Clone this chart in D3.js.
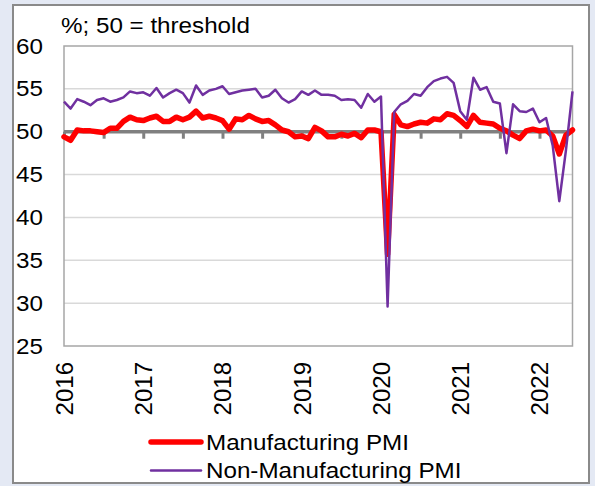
<!DOCTYPE html>
<html>
<head>
<meta charset="utf-8">
<script src="https://cdn.jsdelivr.net/npm/d3@7"></script>
<style>
html,body{margin:0;padding:0;background:#e4e9f4;}
svg{display:block;font-family:"Liberation Sans",Arial,sans-serif;}
</style>
</head>
<body>
<svg id="chart" width="595" height="486"></svg>
<script>
const months = [
"2016-01","2016-02","2016-03","2016-04","2016-05","2016-06","2016-07","2016-08","2016-09","2016-10","2016-11","2016-12",
"2017-01","2017-02","2017-03","2017-04","2017-05","2017-06","2017-07","2017-08","2017-09","2017-10","2017-11","2017-12",
"2018-01","2018-02","2018-03","2018-04","2018-05","2018-06","2018-07","2018-08","2018-09","2018-10","2018-11","2018-12",
"2019-01","2019-02","2019-03","2019-04","2019-05","2019-06","2019-07","2019-08","2019-09","2019-10","2019-11","2019-12",
"2020-01","2020-02","2020-03","2020-04","2020-05","2020-06","2020-07","2020-08","2020-09","2020-10","2020-11","2020-12",
"2021-01","2021-02","2021-03","2021-04","2021-05","2021-06","2021-07","2021-08","2021-09","2021-10","2021-11","2021-12",
"2022-01","2022-02","2022-03","2022-04","2022-05","2022-06"];

const manufacturing = [
49.4,49.0,50.2,50.1,50.1,50.0,49.9,50.4,50.4,51.2,51.7,51.4,
51.3,51.6,51.8,51.2,51.2,51.7,51.4,51.7,52.4,51.6,51.8,51.6,
51.3,50.3,51.5,51.4,51.9,51.5,51.2,51.3,50.8,50.2,50.0,49.4,
49.5,49.2,50.5,50.1,49.4,49.4,49.7,49.5,49.8,49.3,50.2,50.2,
50.0,35.7,52.0,50.8,50.6,50.9,51.1,51.0,51.5,51.4,52.1,51.9,
51.3,50.6,51.9,51.1,51.0,50.9,50.4,50.1,49.6,49.2,50.1,50.3,
50.1,50.2,49.5,47.4,49.6,50.2];

const nonManufacturing = [
53.5,52.7,53.8,53.5,53.1,53.7,53.9,53.5,53.7,54.0,54.7,54.5,
54.6,54.2,55.1,54.0,54.5,54.9,54.5,53.4,55.4,54.3,54.8,55.0,
55.3,54.4,54.6,54.8,54.9,55.0,54.0,54.2,54.9,53.9,53.4,53.8,
54.7,54.3,54.8,54.3,54.3,54.2,53.7,53.8,53.7,52.8,54.4,53.5,
54.1,29.6,52.3,53.2,53.6,54.4,54.2,55.2,55.9,56.2,56.4,55.7,
52.4,51.4,56.3,54.9,55.2,53.5,53.3,47.5,53.2,52.4,52.3,52.7,
51.1,51.6,48.4,41.9,47.8,54.7];

const yTicks = [25,30,35,40,45,50,55,60];
const yearLabels = ["2016","2017","2018","2019","2020","2021","2022"];
const yearMonths = ["2016-01","2017-01","2018-01","2019-01","2020-01","2021-01","2022-01"];
const tickMonths = ["2016-01","2016-07","2017-01","2017-07","2018-01","2018-07","2019-01","2019-07","2020-01","2020-07","2021-01","2021-07","2022-01"];
const threshold = 50;
const titleText = "%; 50 = threshold";
const seriesNames = ["Manufacturing PMI","Non-Manufacturing PMI"];

const svg = d3.select("#chart");
const L = 64, R = 572.5, T = 46, B = 346;
const fs = 22;
const sx = 1.1;

// panel
svg.append("rect").attr("x",13).attr("y",5).attr("width",576).attr("height",478)
  .attr("fill","#ffffff").attr("stroke","#8a8a8a").attr("stroke-width",2);

const x = d3.scalePoint().domain(months).range([L, R]);
const y = d3.scaleLinear().domain([25, 60]).range([B, T]);

// gridlines
svg.append("g").selectAll("line").data(yTicks.filter(d => d !== 25 && d !== 60 && d !== threshold))
  .join("line")
  .attr("x1", L).attr("x2", R)
  .attr("y1", d => y(d)).attr("y2", d => y(d))
  .attr("stroke", "#d9d9d9").attr("stroke-width", 1.5);

// plot frame
svg.append("rect").attr("x", L).attr("y", T).attr("width", R - L).attr("height", B - T)
  .attr("fill", "none").attr("stroke", "#a6a6a6").attr("stroke-width", 1.5);

// y tick labels
svg.append("g").selectAll("text").data(yTicks).join("text")
  .attr("transform", d => `translate(16,${y(d)}) scale(${sx},1)`)
  .attr("dominant-baseline", "central")
  .attr("font-size", fs).attr("fill", "#000")
  .text(d => d);

// x axis at threshold
const xAxis = d3.axisBottom(x).tickValues(tickMonths).tickSize(7).tickFormat("");
const gx = svg.append("g").attr("transform", `translate(0,${y(threshold)})`).call(xAxis);
gx.select(".domain").attr("stroke", "#808080").attr("stroke-width", 3.5).attr("d", `M${L},0H${R}`);
gx.selectAll(".tick line").attr("stroke", "#808080").attr("stroke-width", 3);

// year labels
svg.append("g").selectAll("text").data(yearLabels).join("text")
  .attr("transform", (d, i) => `translate(${x(yearMonths[i]) + 0.5},362) rotate(-90)`)
  .attr("text-anchor", "end").attr("dominant-baseline", "central")
  .attr("font-size", 24).attr("fill", "#000")
  .text(d => d);

// lines
const lineGen = vals => d3.line().x((d, i) => x(months[i])).y(d => y(d))(vals);
svg.append("path").attr("d", lineGen(manufacturing))
  .attr("fill", "none").attr("stroke", "#ff0000").attr("stroke-width", 5.5)
  .attr("stroke-linejoin", "round").attr("stroke-linecap", "round");
svg.append("path").attr("d", lineGen(nonManufacturing))
  .attr("fill", "none").attr("stroke", "#7030a0").attr("stroke-width", 2.5)
  .attr("stroke-linejoin", "round");

// title
svg.append("text").attr("transform", `translate(61,33) scale(${sx},1)`)
  .attr("font-size", fs).attr("fill", "#000").text(titleText);

// legend
const legend = svg.append("g");
const legY = [442, 470.5];
const legColors = ["#ff0000", "#7030a0"];
const legWidths = [5.5, 2.5];
seriesNames.forEach((name, i) => {
  legend.append("line").attr("x1", 151).attr("x2", 201).attr("y1", legY[i]).attr("y2", legY[i])
    .attr("stroke", legColors[i]).attr("stroke-width", legWidths[i]).attr("stroke-linecap", "round");
  legend.append("text").attr("transform", `translate(206,${legY[i]}) scale(${sx},1)`)
    .attr("dominant-baseline", "central")
    .attr("font-size", fs).attr("fill", "#000").text(name);
});
</script>
</body>
</html>
